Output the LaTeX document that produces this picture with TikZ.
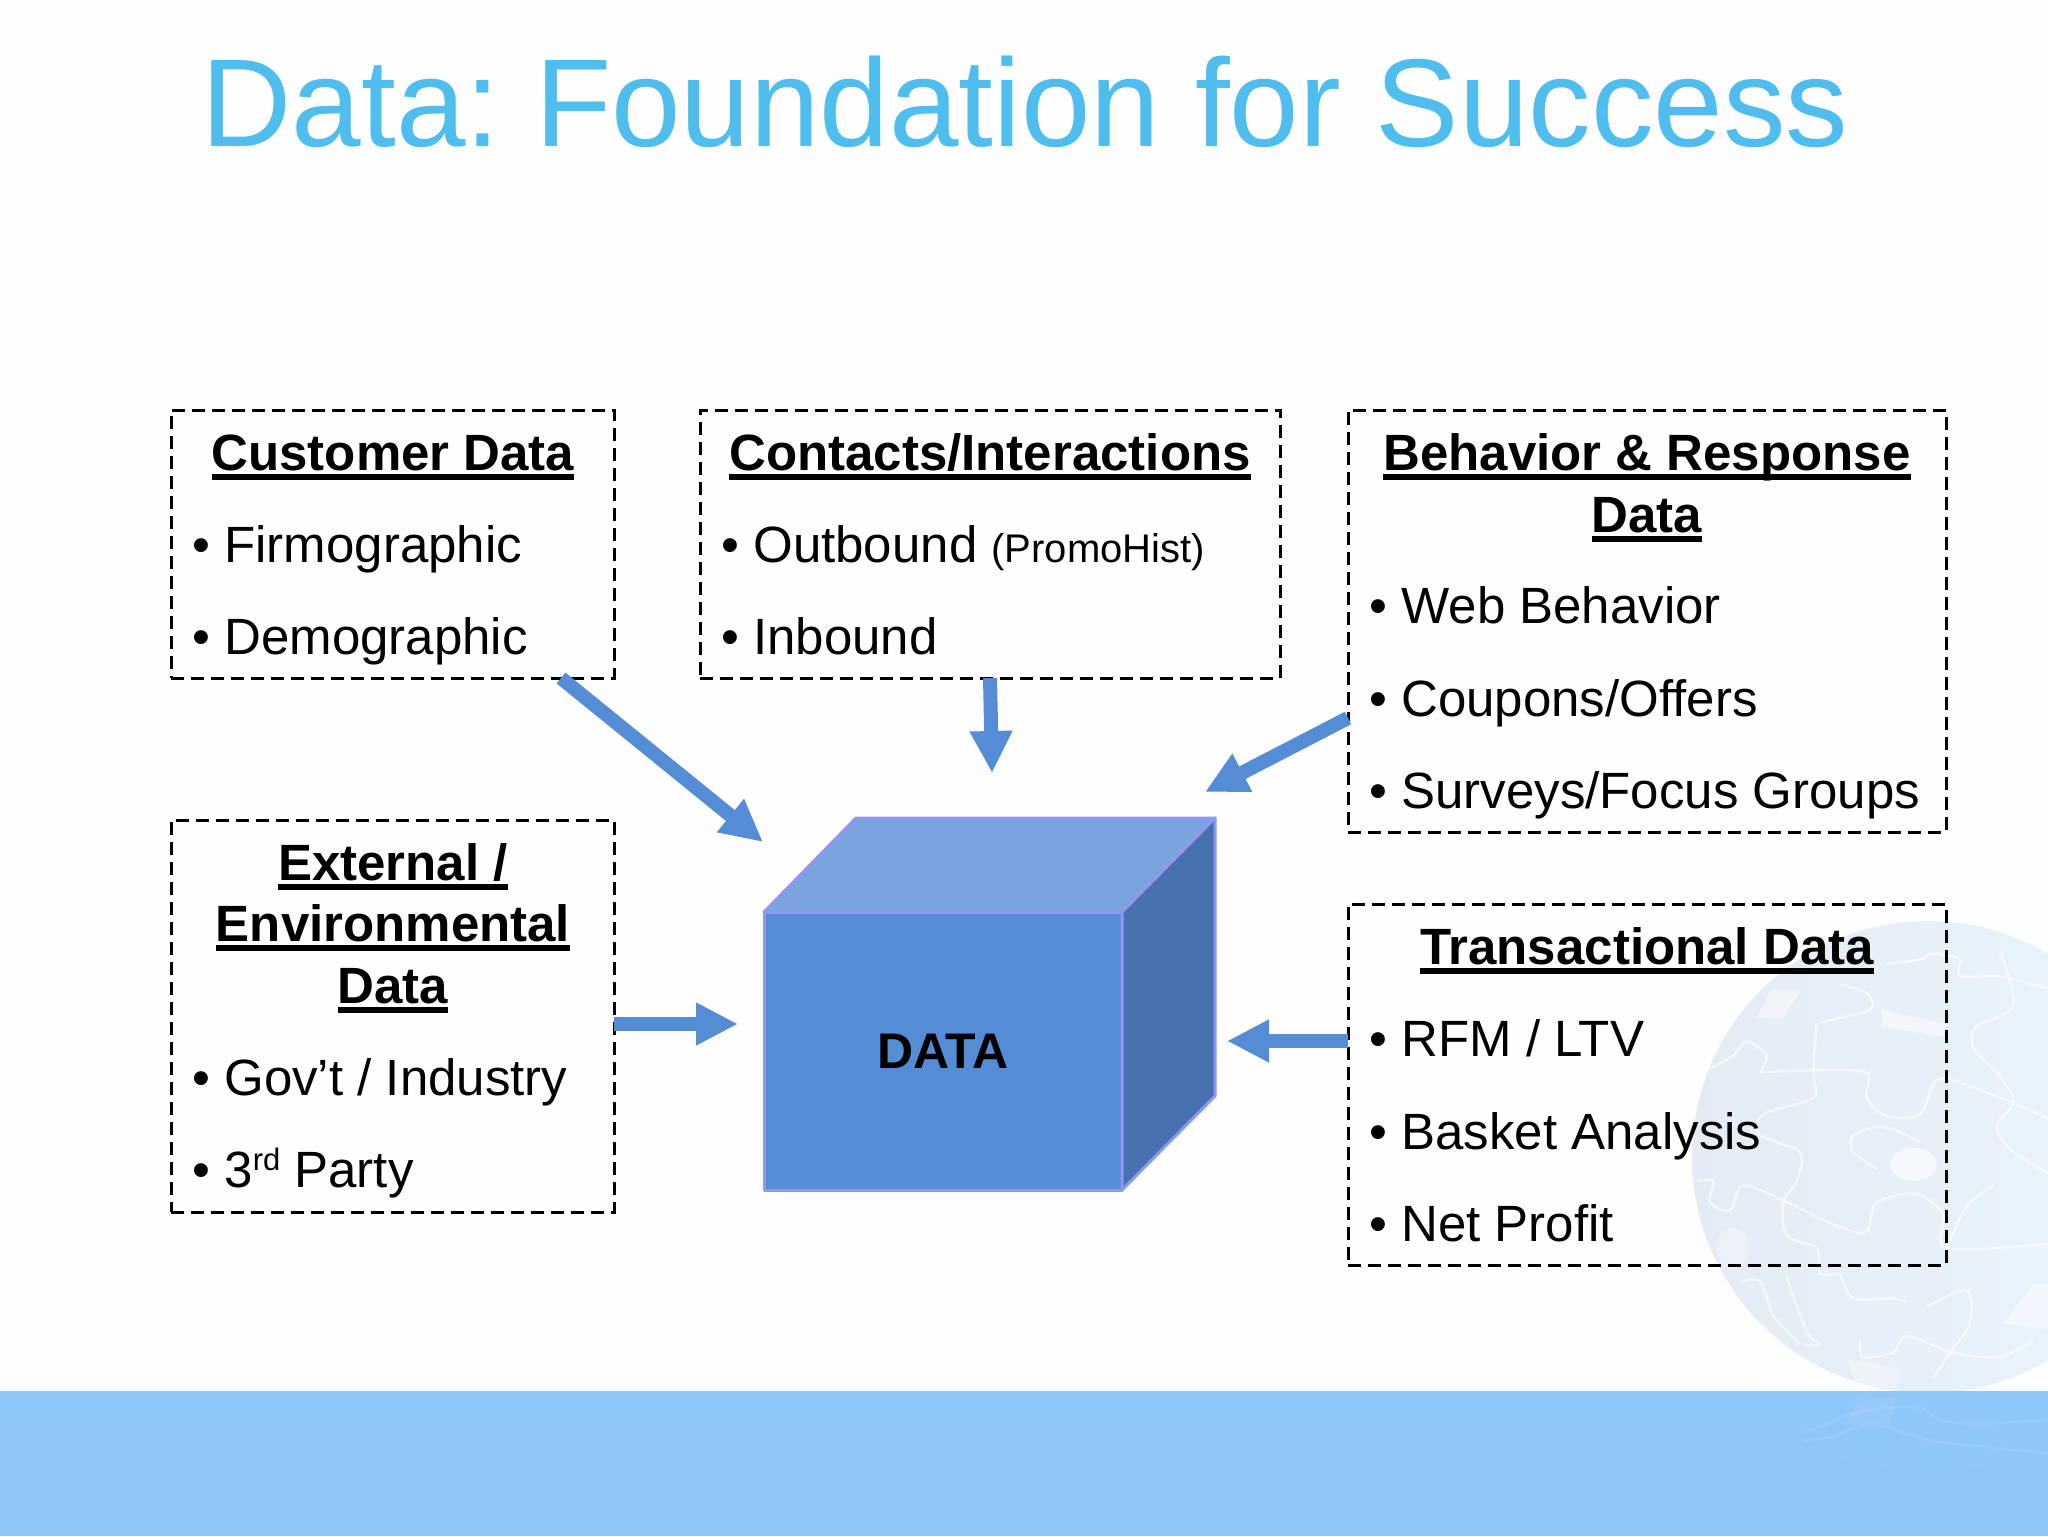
\documentclass[tikz,border=0pt]{standalone}
\usepackage{fontspec}
\setmainfont{Liberation Sans}
\usetikzlibrary{arrows.meta}
\definecolor{titleblue}{HTML}{4FBDEE}
\definecolor{bandblue}{HTML}{8DC6F9}
\definecolor{arrowblue}{HTML}{558CD6}
\definecolor{cubeedge}{HTML}{8F97EE}
\definecolor{cubetop}{HTML}{7AA3E0}
\definecolor{cubeside}{HTML}{4871B0}
\definecolor{pagewhite}{HTML}{FEFEFE}
\definecolor{globeleft}{HTML}{E5EBF5}
\definecolor{globemid}{HTML}{E9F1FA}
\definecolor{globeright}{HTML}{E9F5FC}
\newcommand{\hdrule}[1]{\setbox0\hbox{#1}\rlap{\vrule width\wd0 height -2pt depth 5pt}\box0}
\frenchspacing
\tikzset{
  databox/.style={draw,dashed,dash pattern=on 6.5pt off 3.5pt,line width=1.5pt,anchor=north west,inner sep=0,outer sep=0},
  headtxt/.style={inner sep=0,anchor=base,font=\fontsize{25.5}{30}\selectfont\bfseries},
  itemtxt/.style={inner sep=0,anchor=base west,font=\fontsize{25.5}{30}\selectfont,execute at begin node={\llap{•\hspace{7pt}}}},
  blockarrow/.style={arrowblue,line width=7pt,-{Triangle[length=21pt,width=20pt]}},
  cubeface/.style={draw=cubeedge,line width=1.5pt,line join=round},
  puzzleline/.style={white,line width=1.2pt,opacity=.6}
}
\begin{document}
\begin{tikzpicture}[x=.5pt,y=-.5pt]
  \useasboundingbox (0,0) rectangle (2048,1536);
  \fill[pagewhite] (0,0) rectangle (2048,1536);

  \begin{scope}
    \clip (0,0) rectangle (2048,1536);
    \shade[left color=globeleft,middle color=globemid,right color=globeright] (1928,1157) circle (236);
    \clip (1928,1157) circle (236);
    \begin{scope}[shift={(1600,880)},xscale=.3333,yscale=.4184]
      \draw[puzzleline] plot[smooth] coordinates {(480,460) (640,455) (800,460) (800,520) (860,565) (960,560) (1000,490) (1040,475) (1200,520) (1344,570)};
      \draw[puzzleline] plot[smooth] coordinates {(650,340) (640,455) (640,520) (490,560) (480,610) (600,650) (590,720) (550,770) (560,850) (650,880) (660,940) (720,940)};
      \draw[puzzleline] plot[smooth] coordinates {(290,720) (340,720) (330,770) (390,790) (430,730) (560,770) (720,830) (800,840) (830,770) (950,750) (1030,800) (1040,880) (1344,870)};
      \draw[puzzleline] plot[smooth] coordinates {(720,250) (800,270) (810,310) (660,340)};
      \draw[puzzleline] plot[smooth] coordinates {(480,460) (500,420) (440,385) (400,420) (330,450)};
      \draw[puzzleline] plot[smooth] coordinates {(860,200) (960,190) (1000,175) (1080,190) (1080,230) (1200,230) (1344,260)};
      \draw[puzzleline] plot[smooth] coordinates {(1200,170) (1240,300) (1130,350) (1120,400) (1200,470) (1240,530) (1190,590) (1240,650) (1344,700)};
      \draw[puzzleline] plot[smooth] coordinates {(1180,730) (1100,780) (1040,880)};
      \draw[puzzleline] plot[smooth] coordinates {(720,940) (760,1000) (880,1000) (920,1010)};
      \draw[puzzleline] plot[smooth] coordinates {(980,1020) (1100,980) (1110,1060) (1050,1130) (1000,1190)};
      \draw[puzzleline] plot[smooth] coordinates {(780,1100) (790,1140) (880,1130) (920,1090) (1060,1130) (1200,1140) (1300,1100)};
      \draw[puzzleline] plot[smooth] coordinates {(560,950) (620,1080) (660,1110) (610,1110)};
      \draw[puzzleline] plot[smooth] coordinates {(420,960) (480,960) (520,1040) (600,1110)};
      \draw[puzzleline] plot[smooth] coordinates {(960,625) (850,590) (760,610) (760,650) (830,690)};
      \fill[white,opacity=.6] (940,680) ellipse (70 and 40);
      \fill[white,opacity=.5] (845,310) -- (1040,345) -- (1030,375) -- (845,350) -- cycle;
      \fill[white,opacity=.4] (510,262) -- (605,262) -- (550,330) -- (470,330) -- cycle;
      \fill[white,opacity=.3] (400,880) ellipse (50 and 50);
      \fill[white,opacity=.3] (740,1145) -- (900,1165) -- (890,1215) -- (770,1210) -- cycle;
      \fill[white,opacity=.4] (1210,1060) -- (1300,965) -- (1344,965) -- (1344,1075) -- cycle;
    \end{scope}
  \end{scope}

  \fill[bandblue] (0,1391) rectangle (2048,1536);
  \begin{scope}
    \clip (1760,1391) rectangle (2048,1500);
    \fill[white,opacity=.03] (1930,1391) ellipse (170 and 80);
    \begin{scope}[shift={(1600,880)},xscale=.3333,yscale=.4184]
      \draw[white,opacity=.1,line width=1.2pt] plot[smooth] coordinates {(620,1320) (780,1270) (950,1260) (1020,1290) (1130,1300) (1344,1290)};
      \draw[white,opacity=.1,line width=1.2pt] plot[smooth] coordinates {(610,1340) (700,1330) (820,1300) (1000,1340) (1344,1370)};
      \fill[white,opacity=.07] (780,1240) -- (890,1235) -- (870,1300) -- (730,1300) -- cycle;
    \end{scope}
  \end{scope}

  \node[inner sep=0,anchor=base,text=titleblue,font=\fontsize{62.5}{70}\selectfont] (titletxt) at (1025,147) {Data: Foundation for Success};

  \node[databox,minimum width=221.5pt,minimum height=134pt] (custbox) at (171,410) {};
  \node[databox,minimum width=290pt,minimum height=134pt] (contbox) at (700,410) {};
  \node[databox,minimum width=299pt,minimum height=211pt] (behvbox) at (1348,410) {};
  \node[databox,minimum width=221.5pt,minimum height=196pt] (extnbox) at (171,820) {};
  \node[databox,minimum width=299pt,minimum height=180.5pt] (tranbox) at (1348,904) {};

  \node[headtxt] (custhead) at (393,470) {\hdrule{Customer Data}};
  \node[itemtxt] (custfirm) at (224,562) {Firmographic};
  \node[itemtxt] (custdemo) at (224,654) {Demographic};

  \node[headtxt] (conthead) at (990,470) {\hdrule{Contacts/Interactions}};
  \node[itemtxt] (contout) at (753,562) {Outbound {\fontsize{20}{24}\selectfont (PromoHist)}};
  \node[itemtxt] (contin) at (753,654) {Inbound};

  \node[headtxt] (behvhead) at (1647,470) {\hdrule{Behavior \& Response}};
  \node[headtxt] (behvdata) at (1647,532) {\hdrule{Data}};
  \node[itemtxt] (behvweb) at (1401,623) {Web Behavior};
  \node[itemtxt] (behvcoup) at (1401,716) {Coupons/Offers};
  \node[itemtxt] (behvsurv) at (1401,808) {Surveys/Focus Groups};

  \node[headtxt] (extnhead) at (393,880) {\hdrule{External /}};
  \node[headtxt] (extnenv) at (393,941) {\hdrule{Environmental}};
  \node[headtxt] (extndata) at (393,1003) {\hdrule{Data}};
  \node[itemtxt] (extngov) at (224,1095) {Gov’t / Industry};
  \node[itemtxt] (extnthird) at (224,1187) {3\raisebox{.33em}{\fontsize{15.5}{16}\selectfont rd} Party};

  \node[headtxt] (tranhead) at (1647,964) {\hdrule{Transactional Data}};
  \node[itemtxt] (tranrfm) at (1401,1056) {RFM / LTV};
  \node[itemtxt] (tranbask) at (1401,1149) {Basket Analysis};
  \node[itemtxt] (trannet) at (1401,1241) {Net Profit};

  \coordinate (backleft) at (856,818);
  \coordinate (backright) at (1215,818);
  \coordinate (backlow) at (1215,1096);
  \node[cubeface,fill=arrowblue,inner sep=0,outer sep=0,minimum width=179pt,minimum height=139pt,font=\fontsize{25}{30}\selectfont\bfseries] (cube) at (943,1051) {DATA};
  \draw[cubeface,fill=cubetop] (cube.north west) -- (backleft) -- (backright) -- (cube.north east) -- cycle;
  \draw[cubeface,fill=cubeside] (cube.north east) -- (backright) -- (backlow) -- (cube.south east) -- cycle;

  \coordinate (tipcust) at (763,842);
  \coordinate (tipcont) at (992,773);
  \coordinate (tipbehv) at (1205,792);
  \coordinate (tipextn) at (738,1024);
  \coordinate (tiptran) at (1227,1041);
  \draw[blockarrow] ([xshift=-26.5pt]custbox.south east) -- (tipcust);
  \draw[blockarrow] (contbox.south) -- (tipcont);
  \draw[blockarrow] ([yshift=57pt]behvbox.south west) -- (tipbehv);
  \draw[blockarrow] ([yshift=-4pt]extnbox.east) -- (tipextn);
  \draw[blockarrow] ([yshift=21.75pt]tranbox.west) -- (tiptran);
\end{tikzpicture}
\end{document}
